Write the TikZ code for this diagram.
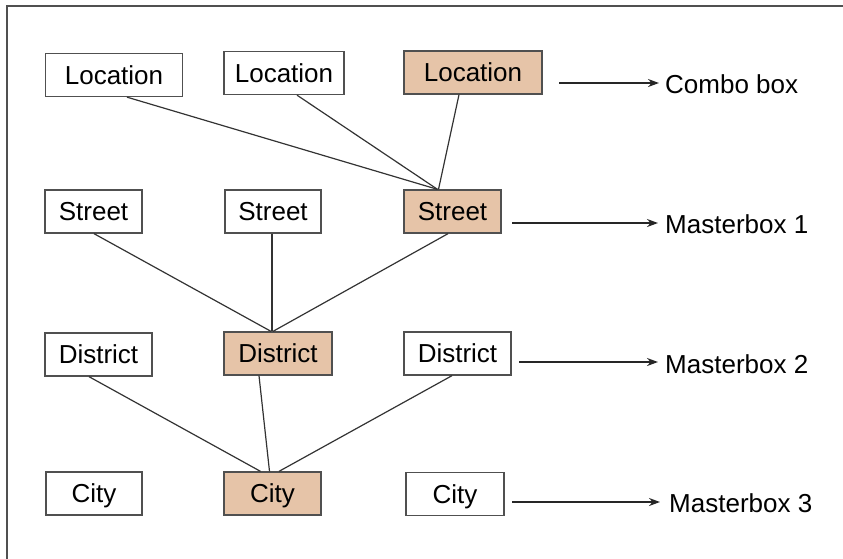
\documentclass[tikz,border=0pt]{standalone}
\usepackage{fontspec}
\setmainfont{Liberation Sans}
\usetikzlibrary{arrows.meta,calc}
\definecolor{peach}{HTML}{E6C4A8}
\definecolor{edge}{HTML}{505050}
\begin{document}
\begin{tikzpicture}[x=1pt,y=-1pt,
  box/.style={draw=edge,line width=1.3pt,fill=white,inner sep=0pt,
    font=\fontsize{26}{30}\selectfont,text depth=0pt},
  picked/.style={box,fill=peach},
  link/.style={draw=black!80,line width=1.2pt},
  lead/.style={draw=black!85,line width=2pt,-{Stealth[length=11pt,width=8pt]}},
  tag/.style={anchor=west,inner sep=0pt,font=\fontsize{26}{30}\selectfont}]
\useasboundingbox (0,0) rectangle (843,558);
% frame
\draw[edge,line width=1.6pt] (7,560) -- (7,6) -- (845,6);

% location row
\node[box,minimum width=137,minimum height=43] (loc1) at (114,75) {Location};
\node[box,minimum width=120,minimum height=43] (loc2) at (284,73) {Location};
\node[picked,minimum width=138,minimum height=43] (loc3) at (473,72.5) {Location};
% street row
\node[box,minimum width=97,minimum height=43] (st1) at (93.5,211.5) {Street};
\node[box,minimum width=96,minimum height=43] (st2) at (273,211.5) {Street};
\node[picked,minimum width=97,minimum height=43] (st3) at (452.5,211.5) {Street};
% district row
\node[box,minimum width=107,minimum height=43] (d1) at (98.5,354.5) {District};
\node[picked,minimum width=108,minimum height=43] (d2) at (278,353.5) {District};
\node[box,minimum width=107,minimum height=43] (d3) at (457.5,353.5) {District};
% city row
\node[box,minimum width=96,minimum height=43] (c1) at (94,493.5) {City};
\node[picked,minimum width=97,minimum height=43] (c2) at (272.5,493.5) {City};
\node[box,minimum width=98,minimum height=43] (c3) at (455,494) {City};

% tree links
\draw[link] ([xshift=13pt]loc1.south) -- ([xshift=-15pt]st3.north);
\draw[link] ([xshift=13pt]loc2.south) -- ([xshift=-15pt]st3.north);
\draw[link] ([xshift=-14pt]loc3.south) -- ([xshift=-14pt]st3.north);
\draw[link] ([xshift=0.5pt]st1.south) -- ([xshift=-7pt]d2.north);
\draw[link] ([xshift=-1pt]st2.south) -- ([xshift=-6pt]d2.north);
\draw[link] ([xshift=-4.5pt]st3.south) -- ([xshift=-5pt]d2.north);
\draw[link] ([xshift=-9.5pt]d1.south) -- ([xshift=-12pt]c2.north);
\draw[link] ([xshift=-19pt]d2.south) -- ([xshift=-3pt]c2.north);
\draw[link] ([xshift=-5.5pt]d3.south) -- ([xshift=6.5pt]c2.north);

% level labels
\node[tag] (t0) at (665,84) {Combo box};
\node[tag] (t1) at (665,224) {Masterbox 1};
\node[tag] (t2) at (665,364) {Masterbox 2};
\node[tag] (t3) at (669,503) {Masterbox 3};
\coordinate (s0) at (559,83);
\coordinate (s1) at (512,223);
\coordinate (s2) at (519,362);
\coordinate (s3) at (512,502);
\draw[lead] (s0) -- ([xshift=-6pt]s0 -| t0.west);
\draw[lead] (s1) -- ([xshift=-7pt]s1 -| t1.west);
\draw[lead] (s2) -- ([xshift=-7pt]s2 -| t2.west);
\draw[lead] (s3) -- ([xshift=-9pt]s3 -| t3.west);
\end{tikzpicture}
\end{document}
